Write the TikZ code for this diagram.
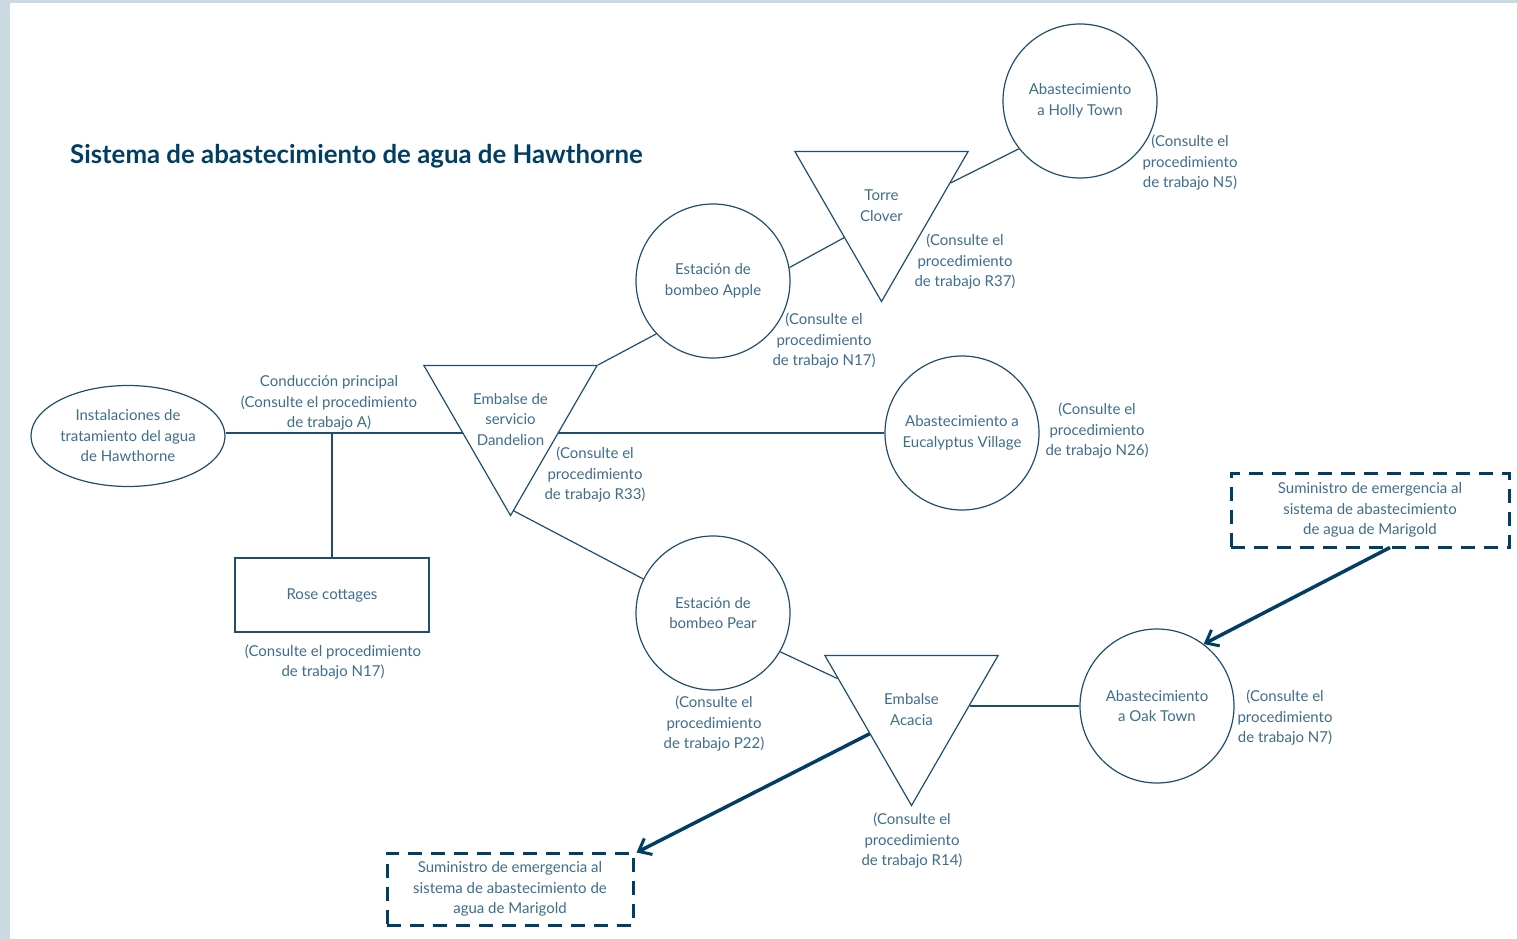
\documentclass[tikz,border=0pt]{standalone}
\usepackage{fontspec}
\setmainfont{Lato}
\usetikzlibrary{shapes.geometric,arrows.meta,backgrounds}
\definecolor{framec}{HTML}{CBD9E2}
\definecolor{ln}{HTML}{1F4E6E}
\definecolor{tx}{HTML}{3F6D8C}
\definecolor{dk}{HTML}{003F63}
\begin{document}
\begin{tikzpicture}[x=1pt,y=-1pt,
  every node/.style={font=\fontsize{15}{20.5}\selectfont, text=tx, align=center, inner sep=0pt},
  conn/.style={draw=ln, line width=1.2pt},
  circ/.style={circle, draw=ln, line width=1.2pt, minimum size=154pt, fill=white},
  tri/.style={regular polygon, regular polygon sides=3, shape border rotate=180, draw=ln, line width=1.2pt, minimum size=200pt, fill=white},
  tritext/.style={label={[yshift=-4pt]center:{#1}}},
  dbox/.style={draw=dk, line width=3pt, dash pattern=on 14pt off 9pt, fill=white},
  emarrow/.style={draw=dk, line width=3.5pt, -{Straight Barb[length=11pt,width=18pt,line width=3pt]}}
]
\useasboundingbox (0,0) rectangle (1517,939);
\begin{scope}[on background layer]
  \fill[framec] (0,0) rectangle (1517,939);
  \fill[white] (10,3) rectangle (1517,939);
\end{scope}

\node[anchor=west, font=\bfseries\fontsize{25.8}{29}\selectfont, text=dk] (title) at (70,156) {Sistema de abastecimiento de agua de Hawthorne};

\node[ellipse, draw=ln, line width=1.2pt, minimum width=194pt, minimum height=101pt, fill=white] (plant) at (128,436) {Instalaciones de\\tratamiento del agua\\de Hawthorne};
\node[draw=ln, line width=1.2pt, minimum width=194pt, minimum height=74pt, fill=white] (rose) at (332,595) {Rose cottages};

\node[tri, tritext={Embalse de\\servicio\\Dandelion}] (dand) at (510.5,415.5) {};
\node[tri, tritext={Torre\\Clover}] (clover) at (881.5,201.5) {};
\node[tri, tritext={Embalse\\Acacia}] (acacia) at (911.5,705.5) {};

\node[circ] (apple) at (713,281) {Estación de\\bombeo Apple};
\node[circ] (holly) at (1080,101) {Abastecimiento\\a Holly Town};
\node[circ] (euc) at (962,433) {Abastecimiento a\\Eucalyptus Village};
\node[circ] (pear) at (713,613) {Estación de\\bombeo Pear};
\node[circ] (oak) at (1157,706) {Abastecimiento\\a Oak Town};

\node[dbox, minimum width=278pt, minimum height=74pt] (mg1) at (1370,510) {Suministro de emergencia al\\sistema de abastecimiento\\de agua de Marigold};
\node[dbox, minimum width=246pt, minimum height=72pt] (mg2) at (510,889) {Suministro de emergencia al\\sistema de abastecimiento de\\agua de Marigold};

\node (lA) at (329,403) {Conducción principal\\(Consulte el procedimiento\\de trabajo A)};
\node (lRose) at (333,662) {(Consulte el procedimiento\\de trabajo N17)};
\node (lR33) at (595,475) {(Consulte el\\procedimiento\\de trabajo R33)};
\node (lN17) at (824,341) {(Consulte el\\procedimiento\\de trabajo N17)};
\node (lR37) at (965,262) {(Consulte el\\procedimiento\\de trabajo R37)};
\node (lN5) at (1190,163) {(Consulte el\\procedimiento\\de trabajo N5)};
\node (lN26) at (1097,431) {(Consulte el\\procedimiento\\de trabajo N26)};
\node (lP22) at (714,724) {(Consulte el\\procedimiento\\de trabajo P22)};
\node (lR14) at (912,841) {(Consulte el\\procedimiento\\de trabajo R14)};
\node (lN7) at (1285,718) {(Consulte el\\procedimiento\\de trabajo N7)};

\coordinate (mainl) at ([yshift=3pt]plant.east);
\coordinate (junc) at (rose.north |- mainl);
\begin{scope}[on background layer]
  \draw[conn] (mainl) -- (euc.west |- mainl);
  \draw[conn] (junc) -- (rose.north);
  \draw[conn] (dand.30) -- (apple.223);
  \draw[conn] (apple.10) -- (clover.224);
  \draw[conn] (clover.15) -- (holly.218);
  \draw[conn] (dand.-88) -- (pear.154);
  \draw[conn] (pear.-30) -- (acacia.160);
  \draw[conn] (acacia.0 |- oak.west) -- (oak.west);
\end{scope}

\draw[emarrow] ([xshift=20pt,yshift=1pt]mg1.south) -- (oak.53);
\draw[emarrow] (acacia.214) -- ([xshift=2pt,yshift=-1pt]mg2.north east);
\end{tikzpicture}
\end{document}
